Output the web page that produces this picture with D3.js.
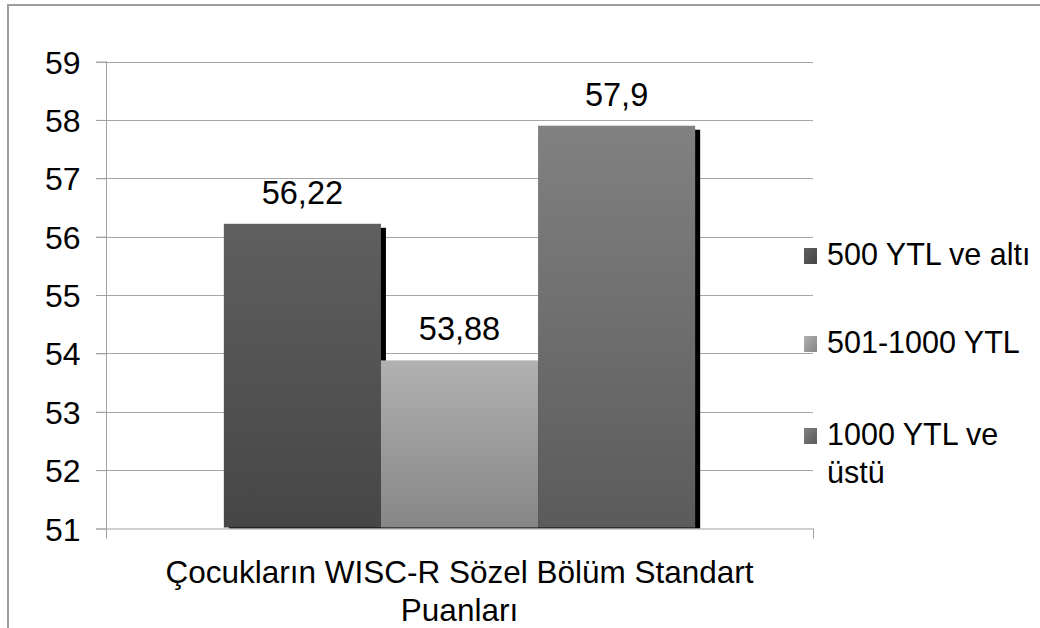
<!DOCTYPE html>
<html><head><meta charset="utf-8">
<script src="https://cdn.jsdelivr.net/npm/d3@7"></script>
<style>
html,body{margin:0;padding:0;background:#fff;}
svg{display:block;font-family:"Liberation Sans",Arial,sans-serif;}
</style></head>
<body>
<svg id="chart" width="1040" height="628"></svg>
<script>
const categories = ["Çocukların WISC-R Sözel Bölüm Standart Puanları"];
const categoryLines = ["Çocukların WISC-R Sözel Bölüm Standart", "Puanları"];
const seriesNames = ["500 YTL ve altı", "501-1000 YTL", "1000 YTL ve üstü"];
const legendLines = [["500 YTL ve altı"], ["501-1000 YTL"], ["1000 YTL ve", "üstü"]];
const values = [56.22, 53.88, 57.9];
const valueLabels = ["56,22", "53,88", "57,9"];
const yTicks = [51, 52, 53, 54, 55, 56, 57, 58, 59];

const colorsTop = ["#5f5f5f", "#b1b1b1", "#818181"];
const colorsBot = ["#464646", "#868686", "#5b5b5b"];

const svg = d3.select("#chart");
const FS_TICK = 32, FS_LABEL = 32.5, FS_TITLE = 31.5, FS_LEG = 30.5;

const plot = {left: 106, right: 813, top: 61.5, bottom: 528.5};
const y = d3.scaleLinear().domain([51, 59]).range([plot.bottom, plot.top]);
const x0 = d3.scaleBand().domain(categories).range([plot.left, plot.right]).paddingInner(0).paddingOuter(0.25);
const x1 = d3.scaleBand().domain(seriesNames).range([0, x0.bandwidth()]).padding(0);

const defs = svg.append("defs");
seriesNames.forEach((s, i) => {
  const g = defs.append("linearGradient").attr("id", "g" + i).attr("x1", 0).attr("y1", 0).attr("x2", 0).attr("y2", 1);
  g.append("stop").attr("offset", "0%").attr("stop-color", colorsTop[i]);
  g.append("stop").attr("offset", "100%").attr("stop-color", colorsBot[i]);
  const gl = defs.append("linearGradient").attr("id", "gl" + i).attr("x1", 0).attr("y1", 0).attr("x2", 1).attr("y2", 1);
  gl.append("stop").attr("offset", "0%").attr("stop-color", colorsTop[i]);
  gl.append("stop").attr("offset", "100%").attr("stop-color", colorsBot[i]);
});
defs.append("clipPath").attr("id", "plotclip").append("rect")
  .attr("x", plot.left).attr("y", 0).attr("width", plot.right - plot.left + 20).attr("height", plot.bottom);

// outer frame
svg.append("rect").attr("x", 8).attr("y", 5).attr("width", 1100).attr("height", 700)
  .attr("fill", "none").attr("stroke", "#9c9c9c").attr("stroke-width", 2);

// gridlines
svg.append("g").selectAll("line").data(yTicks.slice(1)).join("line")
  .attr("x1", 96).attr("x2", plot.right).attr("y1", d => Math.round(y(d)) + 0.5).attr("y2", d => Math.round(y(d)) + 0.5)
  .attr("stroke", "#a6a6a6").attr("stroke-width", 1);

// y axis line + ticks
const yAxis = d3.axisLeft(y).tickValues(yTicks).tickSize(10).tickFormat(d => d);
const yg = svg.append("g").attr("transform", `translate(${plot.left + 0.5},0)`).call(yAxis);
yg.select(".domain").attr("stroke", "#a0a0a0").attr("d", `M0,${plot.top}V${plot.bottom}`);
yg.selectAll(".tick line").attr("stroke", "#a0a0a0");
yg.selectAll(".tick text").attr("font-size", FS_TICK).attr("fill", "#000").attr("x", -26).attr("dy", "0.36em")
  .attr("font-family", "Liberation Sans, Arial, sans-serif");

// bars
const bars = svg.append("g").attr("clip-path", "url(#plotclip)");
const cat = categories[0];
seriesNames.forEach((s, i) => {
  const bx = x0(cat) + x1(s);
  const w = x1.bandwidth();
  const top = y(values[i]);
  bars.append("rect").attr("x", bx + 5).attr("y", top + 4).attr("width", w).attr("height", plot.bottom - top)
    .attr("fill", "#000");
  bars.append("rect").attr("x", bx).attr("y", top).attr("width", w).attr("height", plot.bottom - top - 1)
    .attr("fill", `url(#g${i})`);
});

// x axis
const xg = svg.append("g");
xg.append("line").attr("x1", 96).attr("x2", plot.right).attr("y1", plot.bottom + 0.5).attr("y2", plot.bottom + 0.5)
  .attr("stroke", "#a0a0a0");
[plot.left, plot.right].forEach(px => {
  xg.append("line").attr("x1", px + 0.5).attr("x2", px + 0.5).attr("y1", plot.bottom).attr("y2", plot.bottom + 10)
    .attr("stroke", "#a0a0a0");
});

// data labels
svg.append("g").selectAll("text").data(seriesNames).join("text")
  .attr("x", (s) => x0(cat) + x1(s) + x1.bandwidth() / 2)
  .attr("y", (s, i) => y(values[i]) - 20)
  .attr("text-anchor", "middle").attr("font-size", FS_LABEL).attr("fill", "#000")
  .text((s, i) => valueLabels[i]);

// category label
const cx = x0(cat) + x0.bandwidth() / 2;
svg.append("g").selectAll("text").data(categoryLines).join("text")
  .attr("x", cx).attr("y", (d, i) => 583 + i * 38)
  .attr("text-anchor", "middle").attr("font-size", FS_TITLE).attr("fill", "#000").text(d => d);

// legend
const legendY = [248, 336, 428];
const lg = svg.append("g");
seriesNames.forEach((s, i) => {
  lg.append("rect").attr("x", 804).attr("y", legendY[i]).attr("width", 13).attr("height", 16)
    .attr("fill", `url(#gl${i})`);
  legendLines[i].forEach((line, j) => {
    lg.append("text").attr("x", 827).attr("y", legendY[i] + 17 + j * 38)
      .attr("font-size", FS_LEG).attr("fill", "#000").text(line);
  });
});
</script>
</body></html>
